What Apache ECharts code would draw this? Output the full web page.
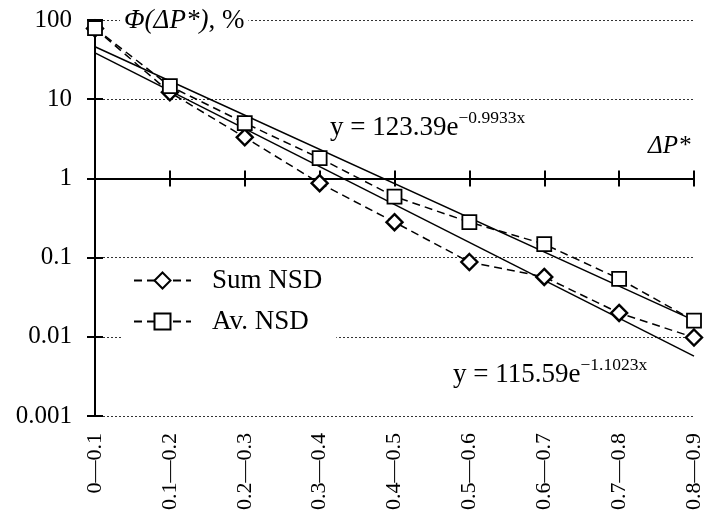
<!DOCTYPE html>
<html>
<head>
<meta charset="utf-8">
<script src="https://cdn.jsdelivr.net/npm/echarts@6/dist/echarts.min.js"></script>
<style>html,body{margin:0;padding:0;background:#fff}#c{width:706px;height:517px}</style>
</head>
<body>
<div id="c"></div>
<script>
const categories = ['0—0.1','0.1—0.2','0.2—0.3','0.3—0.4','0.4—0.5','0.5—0.6','0.6—0.7','0.7—0.8','0.8—0.9'];
const sumNSD = [78, 12.2, 3.3, 0.87, 0.28, 0.088, 0.057, 0.02, 0.0098];
const avNSD = [79, 14.6, 5.0, 1.8, 0.59, 0.28, 0.148, 0.054, 0.016];
const trendAv = [46, null, null, null, null, null, null, null, 0.0161];
const trendSum = [38.4, null, null, null, null, null, null, null, 0.0057];
const yTickLabels = ['0.001', '0.01', '0.1', '1', '10', '100'];

const FONT = 'Liberation Serif';
const chart = echarts.init(document.getElementById('c'));
const yCommon = {
  type: 'log', logBase: 10, min: 0.001, max: 100,
  axisLine: { show: true, lineStyle: { color: '#000', width: 2 } },
  minorTick: { show: false }
};
const xTop = {
  type: 'category', data: categories, boundaryGap: false, position: 'top', offset: -158.4,
  axisLine: { show: true, lineStyle: { color: '#000', width: 2 } },
  axisLabel: { show: false }, splitLine: { show: false }
};
chart.setOption({
  animation: false,
  backgroundColor: '#fff',
  grid: { left: 95, right: 12, top: 20, bottom: 101, containLabel: false },
  xAxis: [
    { type: 'category', data: categories, boundaryGap: false, position: 'bottom',
      axisLine: { show: false }, axisTick: { show: false }, splitLine: { show: false },
      axisLabel: { rotate: 90, fontSize: 22, fontFamily: FONT, color: '#000', margin: 17 } },
    Object.assign({}, xTop, { axisTick: { show: true, inside: false, length: 8, lineStyle: { color: '#000', width: 2 } } }),
    Object.assign({}, xTop, { axisTick: { show: true, inside: true, length: 8, lineStyle: { color: '#000', width: 2 } } })
  ],
  yAxis: [
    Object.assign({}, yCommon, {
      axisTick: { show: true, inside: false, length: 8, lineStyle: { color: '#000', width: 2 } },
      axisLabel: { fontSize: 25, fontFamily: FONT, color: '#000', margin: 23,
        formatter: v => yTickLabels[Math.round(Math.log10(v)) + 3] },
      splitLine: { show: true, lineStyle: { color: '#333', width: 1, type: [2, 2] } }
    }),
    Object.assign({}, yCommon, {
      axisTick: { show: true, inside: true, length: 8, lineStyle: { color: '#000', width: 2 } },
      axisLabel: { show: false }, splitLine: { show: false }, position: 'left'
    })
  ],
  legend: {
    orient: 'vertical', left: 123, top: 262,
    backgroundColor: '#fff', padding: [5, 14, 7, 10],
    itemWidth: 57, itemHeight: 20, itemGap: 14,
    data: ['Sum NSD', 'Av. NSD'],
    textStyle: { fontSize: 27, fontFamily: FONT, color: '#000', padding: [0, 0, 0, 16] }
  },
  series: [
    { name: 'trendAv', type: 'line', data: trendAv, connectNulls: true, showSymbol: false,
      lineStyle: { color: '#000', width: 1.5 }, z: 2, silent: true },
    { name: 'trendSum', type: 'line', data: trendSum, connectNulls: true, showSymbol: false,
      lineStyle: { color: '#000', width: 1.5 }, z: 2, silent: true },
    { name: 'Sum NSD', type: 'line', data: sumNSD, symbol: 'diamond', symbolSize: 16,
      lineStyle: { color: '#000', width: 1.5, type: [8, 5] },
      itemStyle: { color: '#fff', borderColor: '#000', borderWidth: 2.4 }, z: 3 },
    { name: 'Av. NSD', type: 'line', data: avNSD, symbol: 'rect', symbolSize: 14,
      lineStyle: { color: '#000', width: 1.5, type: [8, 5] },
      itemStyle: { color: '#fff', borderColor: '#000', borderWidth: 1.8 }, z: 4 }
  ],
  graphic: [
    { type: 'text', left: 120, top: 5, z: 10,
      style: { text: '{i|Φ(ΔP*)}{n|, %}', backgroundColor: '#fff', padding: [2, 4],
        rich: { i: { fontSize: 27, fontFamily: FONT, fontStyle: 'italic', fill: '#000' },
                n: { fontSize: 27, fontFamily: FONT, fill: '#000' } } } },
    { type: 'text', left: 648, top: 134, z: 10,
      style: { text: 'ΔP*', fontSize: 25, fontFamily: FONT, fontStyle: 'italic', fill: '#000' } },
    { type: 'text', left: 330, top: 109, z: 10,
      style: { text: '{b|y = 123.39e}{s|−0.9933x}',
        rich: { b: { fontSize: 27, fontFamily: FONT, fill: '#000', lineHeight: 32, verticalAlign: 'bottom' },
                s: { fontSize: 17.5, fontFamily: FONT, fill: '#000', lineHeight: 32, verticalAlign: 'top' } } } },
    { type: 'text', left: 453, top: 356, z: 10,
      style: { text: '{b|y = 115.59e}{s|−1.1023x}',
        rich: { b: { fontSize: 27, fontFamily: FONT, fill: '#000', lineHeight: 32, verticalAlign: 'bottom' },
                s: { fontSize: 17.5, fontFamily: FONT, fill: '#000', lineHeight: 32, verticalAlign: 'top' } } } }
  ]
});
</script>
</body>
</html>
